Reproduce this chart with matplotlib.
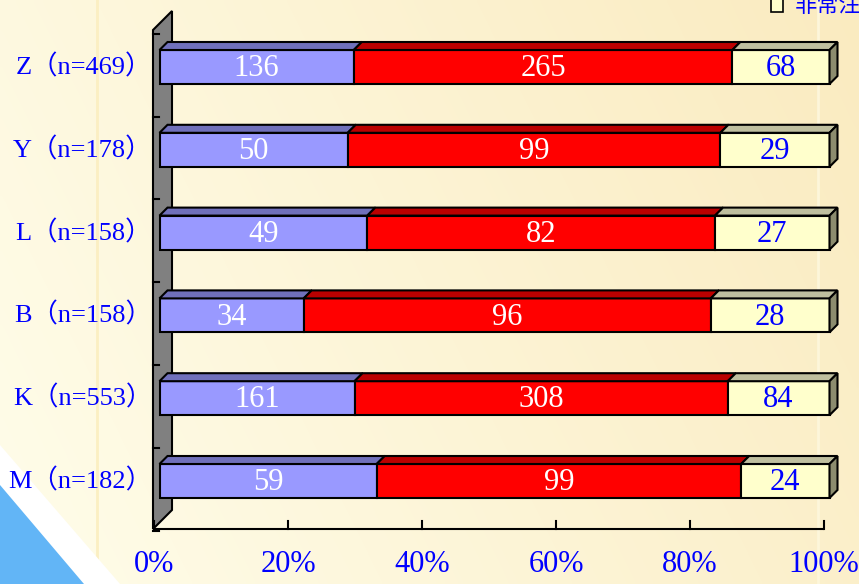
"""
Stacked 100% horizontal bars with an Excel-like 3D look.
"""

import numpy as np
import matplotlib.pyplot as plt
from matplotlib.patches import Polygon

groups = ['M', 'K', 'B', 'L', 'Y', 'Z']
totals = [182, 553, 158, 158, 178, 469]
very = [59, 161, 34, 49, 50, 136]
some = [99, 308, 96, 82, 99, 265]
little = [24, 84, 28, 27, 29, 68]
x_ticks = [0, 20, 40, 60, 80, 100]
legend_text = '非常注意'

front_cols = ['#9999FF', '#FF0000', '#FFFFCC']
top_cols = ['#7070BB', '#BB0000', '#BFBF9F']
side_col = '#8C8C6E'
num_cols = ['white', 'white', '#0000FF']
blue = '#0000FF'

# pixel <-> data scale of the drawing area
sx = 6.70   # px per percent
sy = 82.8   # px per category row
dx = 8 / sx     # bar depth
dy = 8 / sy
bar_h = 34 / sy
floor_y = -0.58
floor_dx = -0.82

fig = plt.figure(figsize=(8.59, 5.84), dpi=100)
ax = fig.add_axes([0, 0, 1, 1])
xlim = (-159.5 / sx, (859 - 159.5) / sx)
ylim = ((481 - 584) / sy, 481 / sy)
ax.set_xlim(*xlim)
ax.set_ylim(*ylim)
ax.axis('off')

# background: pale cream going warmer to the right
h, w = 146, 215
gx, gy = np.meshgrid(np.linspace(0, 1, w), np.linspace(0, 1, h))
t = np.clip(0.75 * gx + 0.25 * (1 - gy), 0, 1)[..., None]
c0 = np.array([255, 253, 234]) / 255
c1 = np.array([250, 235, 192]) / 255
bg = c0 * (1 - t) + c1 * t
ax.imshow(bg, extent=(*xlim, *ylim), aspect='auto', zorder=0,
          interpolation='bicubic')
ax.axvline((97 - 159.5) / sx, color='#FBEFC2', lw=2, zorder=0.5)
ax.axvline((818 - 159.5) / sx, color='#FDF6DA', lw=2, zorder=0.5)

# corner decoration
ax.add_patch(Polygon([(0, 1 - 445 / 584), (120 / 859, 0), (0, 0)],
                     closed=True, transform=ax.transAxes, fc='white',
                     ec='none', zorder=0.6))
ax.add_patch(Polygon([(0, 1 - 485 / 584), (84 / 859, 0), (0, 0)],
                     closed=True, transform=ax.transAxes, fc='#62B5F6',
                     ec='none', zorder=0.7))

# back wall
wl, wr = (153 - 159.5) / sx, (172 - 159.5) / sx
ax.add_patch(Polygon([(wl, floor_y), (wl, (481 - 30) / sy),
                      (wr, (481 - 11) / sy), (wr, (481 - 510) / sy)],
                     closed=True, fc='#808080', ec='black', lw=1.5, zorder=1))
for i in range(-1, len(groups)):
    yy = i + 0.5 - 0.10
    ax.plot([wl, wl + 6 / sx], [yy, yy], color='black', lw=1.5, zorder=1.1)

# floor line and ticks
ax.plot([floor_dx, 100 + floor_dx], [floor_y, floor_y], color='black',
        lw=1.5, zorder=1, solid_capstyle='butt')
for v in x_ticks:
    ax.plot([v + floor_dx] * 2, [floor_y, floor_y + 8 / sy], color='black',
            lw=1.5, zorder=1)
    ax.text(v + floor_dx, (481 - 565) / sy, f'{v}%', ha='center',
            va='center', color=blue, fontsize=22, family='Liberation Serif',
            zorder=5)

# bars
ypos = np.arange(len(groups))
segs = [very, some, little]
for i, g in enumerate(groups):
    left = 0
    for k, seg in enumerate(segs):
        val = seg[i]
        pct = val / totals[i] * 100
        ax.barh(ypos[i], pct, left=left, height=bar_h, color=front_cols[k],
                edgecolor='black', linewidth=1.5, zorder=3)
        top = ypos[i] + bar_h / 2
        ax.add_patch(Polygon([(left, top), (left + pct, top),
                              (left + pct + dx, top + dy), (left + dx, top + dy)],
                             closed=True, fc=top_cols[k], ec='black', lw=1.5,
                             zorder=3))
        ax.text(left + pct / 2, ypos[i] - 0.02, str(val), ha='center',
                va='center', color=num_cols[k], fontsize=22,
                family='Liberation Serif', zorder=4)
        left += pct
    bot = ypos[i] - bar_h / 2
    top = ypos[i] + bar_h / 2
    ax.add_patch(Polygon([(left, bot), (left, top), (left + dx, top + dy),
                          (left + dx, bot + dy)],
                         closed=True, fc=side_col, ec='black', lw=1.5,
                         zorder=3))
    ax.text((152 - 159.5) / sx, ypos[i], f'{g}（n={totals[i]}）', ha='right',
            va='center', color=blue, fontsize=19,
            family=['Liberation Serif', 'Noto Sans CJK SC'], zorder=5)

# legend entry, partly off the top edge
ax.add_patch(Polygon([((771 - 159.5) / sx, (481 - 12) / sy),
                      ((783 - 159.5) / sx, (481 - 12) / sy),
                      ((783 - 159.5) / sx, (481 + 2) / sy),
                      ((771 - 159.5) / sx, (481 + 2) / sy)],
                     closed=True, fc='#FFFFCC', ec='black', lw=1.2, zorder=5))
ax.text((795 - 159.5) / sx, (481 - 5) / sy, legend_text, ha='left',
        va='center', color=blue, fontsize=16,
        family=['Noto Sans CJK SC'], zorder=5)

fig.savefig('out.png', dpi=100)
